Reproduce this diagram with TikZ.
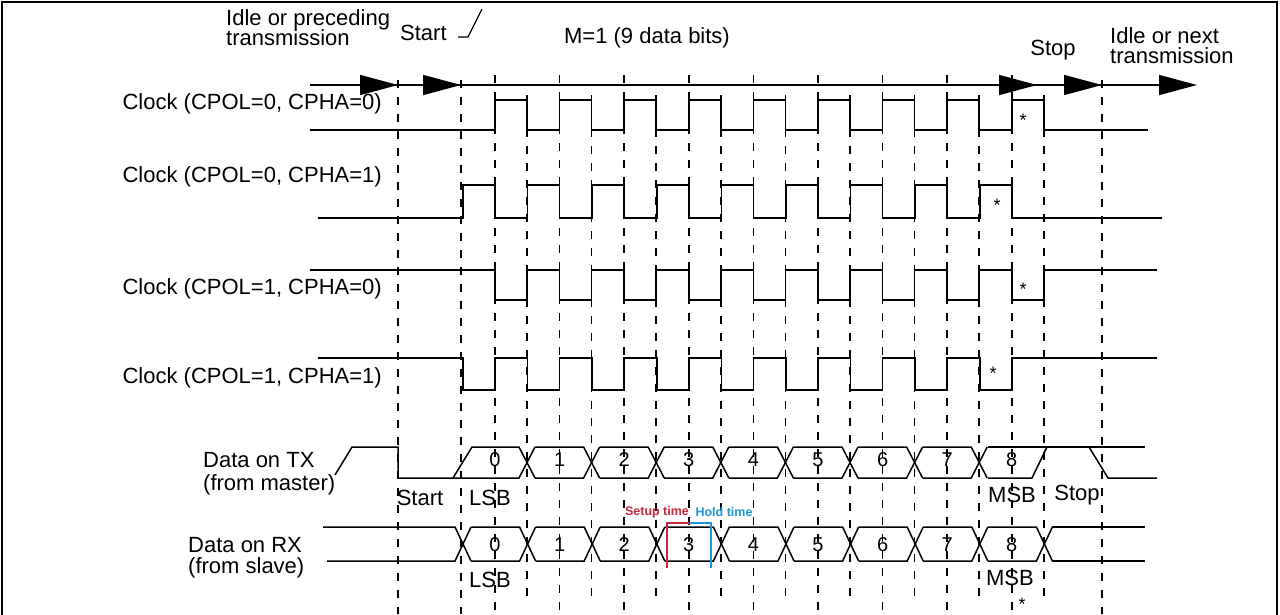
\documentclass[tikz,border=0pt]{standalone}
\usepackage{fontspec}
\setmainfont{Liberation Sans}
\usetikzlibrary{arrows.meta}
\begin{document}
\begin{tikzpicture}[x=1pt,y=-1pt,
  lbl/.style={font=\fontsize{22}{24}\selectfont,inner sep=0pt},
  dig/.style={font=\fontsize{20}{22}\selectfont,inner sep=0pt},
  wave/.style={line width=1.5pt},
  grid/.style={line width=1.5pt,dash pattern=on 8pt off 9pt},
  big/.style={-{Triangle[length=38pt,width=20pt]}},
  st/.style={font=\fontsize{18}{18}\selectfont,inner sep=0pt}]
\useasboundingbox (0,0) rectangle (1280,614);
\draw[line width=1.5pt] (2,640) -- (2,2) -- (1277,2) -- (1277,640);
\def\p{64.6}
% grid
\foreach \x in {398,461,1102} \draw[grid] (\x,80) -- (\x,614);
\foreach \k in {0,...,8} {
  \draw[grid] ({495+\k*\p},75) -- ({495+\k*\p},614);
  \draw[grid] ({527+\k*\p},95) -- ({527+\k*\p},600);
}
% top arrow line
\draw[line width=1.5pt] (310,85) -- (1160,85);
\foreach \t in {398,461,1037,1102,1197}
  \draw[line width=1.5pt,big] (\t-40,85) -- (\t,85);
% texts top
\node[lbl,align=left,anchor=north west] (idle) at (226,9) {Idle or preceding\\[-4pt]transmission};
\node[lbl,anchor=west] (start) at (400,33) {Start};
\draw[line width=1.3pt] (458,37) -- (468,37) -- (482,9);
\node[lbl] (m) at (647,38) {M=1 (9 data bits)};
\node[lbl] (stop) at (1053,50) {Stop};
\node[lbl,align=left,anchor=north west] (idlen) at (1110,27) {Idle or next\\[-4pt]transmission};
% clock labels
\node[lbl,anchor=east] (c1) at (382,104) {Clock (CPOL=0, CPHA=0)};
\node[lbl,anchor=east] (c2) at (382,177) {Clock (CPOL=0, CPHA=1)};
\node[lbl,anchor=east] (c3) at (382,289) {Clock (CPOL=1, CPHA=0)};
\node[lbl,anchor=east] (c4) at (382,378) {Clock (CPOL=1, CPHA=1)};
% clock 1
\draw[wave] (310,130) foreach \k in {0,...,8} { -- ({495+\k*\p},130) -- ({495+\k*\p},100) -- ({527+\k*\p},100) -- ({527+\k*\p},130)} -- (1148,130);
% clock 2
\draw[wave] (318,218) foreach \k in {0,...,8} { -- ({463+\k*\p},218) -- ({463+\k*\p},185) -- ({495+\k*\p},185) -- ({495+\k*\p},218)} -- (1162,218);
% clock 3
\draw[wave] (310,270) foreach \k in {0,...,8} { -- ({495+\k*\p},270) -- ({495+\k*\p},300) -- ({527+\k*\p},300) -- ({527+\k*\p},270)} -- (1157,270);
% clock 4
\draw[wave] (318,358) foreach \k in {0,...,8} { -- ({463+\k*\p},358) -- ({463+\k*\p},390) -- ({495+\k*\p},390) -- ({495+\k*\p},358)} -- (1157,358);
\node[st] (s1) at (1023,120) {*};
\node[st] (s2) at (997,205) {*};
\node[st] (s3) at (1023,289) {*};
\node[st] (s4) at (993,373) {*};
\node[st] (s5) at (1022,604) {*};
% TX
\node[lbl,anchor=west] (tx1) at (203,460) {Data on TX};
\node[lbl,anchor=west] (tx2) at (203,485) {(from master)};
\draw[wave] (335,475) -- (352,447) -- (398,447) -- (398,478) -- (519,478) -- (535,447);
\draw[wave] (453,478) -- (472,447) -- (519,447) -- (535,478);
\foreach \k in {1,...,7} {
  \draw[wave] ({527+\k*\p-56.6},447) -- ({527+\k*\p-8},447) -- ({527+\k*\p+8},478);
  \draw[wave] ({527+\k*\p-56.6},478) -- ({527+\k*\p-8},478) -- ({527+\k*\p+8},447);
}
\draw[wave] (988,447) -- (1145,447);
\draw[wave] (988,478) -- (1032,478) -- (1047,447);
\draw[wave] (1089,447) -- (1108,478) -- (1157,478);
% RX
\node[lbl,anchor=west] (rx1) at (188,545) {Data on RX};
\node[lbl,anchor=west] (rx2) at (188,568) {(from slave)};
\draw[wave] (323,527) -- (455,527) -- (471,561);
\draw[wave] (327,561) -- (455,561) -- (471,527);
\foreach \k in {0,...,8} {
  \draw[wave] ({463+\k*\p+8},527) -- ({463+\k*\p+\p-8},527) -- ({463+\k*\p+\p+8},561);
  \draw[wave] ({463+\k*\p+8},561) -- ({463+\k*\p+\p-8},561) -- ({463+\k*\p+\p+8},527);
}
\draw[wave] (1052,527) -- (1145,527);
\draw[wave] (1052,561) -- (1145,561);
% digits
\foreach \k in {0,...,8} {
  \node[dig] (t\k) at ({495+\k*\p},460) {\k};
  \node[dig] (r\k) at ({495+\k*\p},545) {\k};
}
\node[lbl] (sa) at (420,498) {Start};
\node[lbl] (l1) at (490,498) {LSB};
\node[lbl] (m1) at (1012,495) {MSB};
\node[lbl] (so) at (1077,495) {Stop};
\node[lbl] (l2) at (490,580) {LSB};
\node[lbl] (m2) at (1010,578) {MSB};
% setup / hold
\definecolor{su}{RGB}{200,40,60}\definecolor{ho}{RGB}{30,150,215}
\draw[su,line width=1.5pt] (667,568) -- (667,523) -- (690,523);
\draw[ho,line width=1.5pt] (690,523) -- (711,523) -- (711,568);
\node[su,font=\fontsize{12.5}{12}\selectfont\bfseries,inner sep=0pt] (setup) at (657,512) {Setup time};
\node[ho,font=\fontsize{12.5}{12}\selectfont\bfseries,inner sep=0pt] (hold) at (724,512) {Hold time};
\end{tikzpicture}
\end{document}
